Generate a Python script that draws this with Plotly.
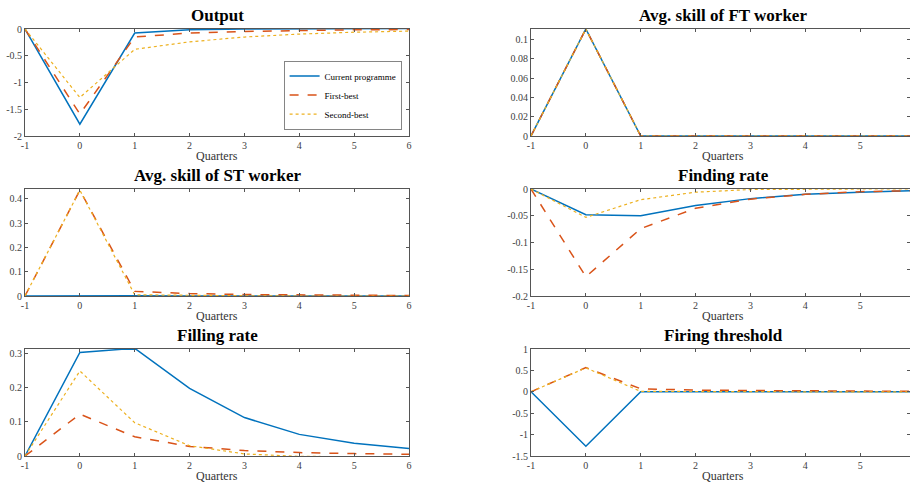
import plotly.graph_objects as go

quarters = [-1, 0, 1, 2, 3, 4, 5, 6]
series_names = ["Current programme", "First-best", "Second-best"]

output_cur = [0, -1.78, -0.075, -0.015, 0.0, 0.005, 0.008, 0.01]
output_fb = [0, -1.59, -0.15, -0.075, -0.045, -0.025, -0.015, -0.01]
output_sb = [0, -1.28, -0.38, -0.24, -0.15, -0.095, -0.06, -0.04]

ft_cur = [0, 0.111, 0, 0, 0, 0, 0, 0]
ft_fb = [0, 0.111, 0, 0, 0, 0, 0, 0]
ft_sb = [0, 0.111, 0, 0, 0, 0, 0, 0]

st_cur = [0, 0.002, 0.001, 0.0005, 0, 0, 0, 0]
st_fb = [0, 0.435, 0.019, 0.01, 0.006, 0.004, 0.003, 0.002]
st_sb = [0, 0.435, 0.005, 0.002, 0.001, 0, 0, 0]

find_cur = [0, -0.048, -0.05, -0.031, -0.018, -0.01, -0.006, -0.003]
find_fb = [0, -0.164, -0.074, -0.036, -0.019, -0.01, -0.005, -0.003]
find_sb = [0, -0.053, -0.02, -0.006, -0.001, 0.0, 0.0, 0.0]

fill_cur = [0, 0.302, 0.314, 0.197, 0.112, 0.063, 0.037, 0.022]
fill_fb = [0, 0.122, 0.056, 0.028, 0.016, 0.01, 0.007, 0.005]
fill_sb = [0, 0.248, 0.097, 0.03, 0.006, -0.001, -0.002, -0.002]

fire_cur = [0, -1.27, 0, 0, 0, 0, 0, 0]
fire_fb = [0, 0.565, 0.07, 0.04, 0.03, 0.02, 0.015, 0.01]
fire_sb = [0, 0.56, 0.01, 0.003, 0.001, 0, 0, 0]

titles = ["Output", "Avg. skill of FT worker", "Avg. skill of ST worker",
          "Finding rate", "Filling rate", "Firing threshold"]
panels = [
    (output_cur, output_fb, output_sb),
    (ft_cur, ft_fb, ft_sb),
    (st_cur, st_fb, st_sb),
    (find_cur, find_fb, find_sb),
    (fill_cur, fill_fb, fill_sb),
    (fire_cur, fire_fb, fire_sb),
]
y_ranges = [[-2, 0], [0, 0.111], [0, 0.44], [-0.2, 0], [0, 0.312], [-1.5, 1]]
y_tickvals = [
    [-2, -1.5, -1, -0.5, 0],
    [0, 0.02, 0.04, 0.06, 0.08, 0.1],
    [0, 0.1, 0.2, 0.3, 0.4],
    [-0.2, -0.15, -0.1, -0.05, 0],
    [0, 0.1, 0.2, 0.3],
    [-1.5, -1, -0.5, 0, 0.5, 1],
]
x_tickvals = [-1, 0, 1, 2, 3, 4, 5, 6]


def fmt(v):
    return f"{v:g}"


W, H = 910, 485
colors = ["#0072BD", "#D95319", "#EDB120"]
dashes = ["solid", "dash", "dot"]
widths = [1.5, 1.5, 1.2]
FONT = "Liberation Serif, Times New Roman, Times, serif"
AX = "#555555"

left_px = (25, 409)
right_px = (531, 910)
rows_px = [(29, 136), (189, 296), (349, 456)]
unit = (left_px[1] - left_px[0]) / 7.0

fig = go.Figure()
layout = dict(template="none", width=W, height=H,
              margin=dict(l=0, r=0, t=0, b=0, pad=0), autosize=False,
              paper_bgcolor="white", plot_bgcolor="white",
              font=dict(family=FONT, size=10, color="#333333"))
annotations = []

for i in range(6):
    r, c = divmod(i, 2)
    xpx = left_px if c == 0 else right_px
    ypx = rows_px[r]
    n = i + 1
    xa = "xaxis" if n == 1 else f"xaxis{n}"
    ya = "yaxis" if n == 1 else f"yaxis{n}"
    xref = "x" if n == 1 else f"x{n}"
    yref = "y" if n == 1 else f"y{n}"
    xmax = 6 if c == 0 else -1 + (xpx[1] - xpx[0]) / unit
    common = dict(showline=True, mirror="ticks", linecolor=AX, linewidth=1,
                  ticks="inside", ticklen=3, tickcolor=AX, showgrid=False,
                  zeroline=False, automargin=False, tickmode="array",
                  tickfont=dict(family=FONT, size=10, color="#404040"))
    layout[xa] = dict(domain=[xpx[0] / W, xpx[1] / W], anchor=yref,
                      range=[-1, xmax], tickvals=x_tickvals,
                      ticktext=[fmt(v) for v in x_tickvals], **common)
    layout[ya] = dict(domain=[1 - ypx[1] / H, 1 - ypx[0] / H], anchor=xref,
                      range=y_ranges[i], tickvals=y_tickvals[i],
                      ticktext=[fmt(v) for v in y_tickvals[i]], **common)
    for k in range(3):
        fig.add_trace(go.Scatter(
            x=quarters, y=panels[i][k], mode="lines", name=series_names[k],
            line=dict(color=colors[k], dash=dashes[k], width=widths[k]),
            xaxis=xref, yaxis=yref, showlegend=(i == 0), legendgroup=series_names[k],
            cliponaxis=True))
    xc = (xpx[0] + (xpx[0] + 7 * unit)) / 2 / W
    annotations.append(dict(text=f"<b>{titles[i]}</b>", x=xc, y=1 - (ypx[0] - 14) / H,
                            xref="paper", yref="paper", showarrow=False,
                            xanchor="center", yanchor="middle",
                            font=dict(family=FONT, size=17, color="black")))
    annotations.append(dict(text="Quarters", x=xc, y=1 - (ypx[1] + 20) / H,
                            xref="paper", yref="paper", showarrow=False,
                            xanchor="center", yanchor="middle",
                            font=dict(family=FONT, size=12, color="#333333")))

layout["annotations"] = annotations
layout["legend"] = dict(x=402 / W, y=1 - 130 / H, xanchor="right", yanchor="bottom",
                        bgcolor="white", bordercolor="#333333", borderwidth=0.6,
                        font=dict(family=FONT, size=9, color="black"),
                        tracegroupgap=0, itemwidth=30)
fig.update_layout(**layout)
fig.write_html("out.html")
